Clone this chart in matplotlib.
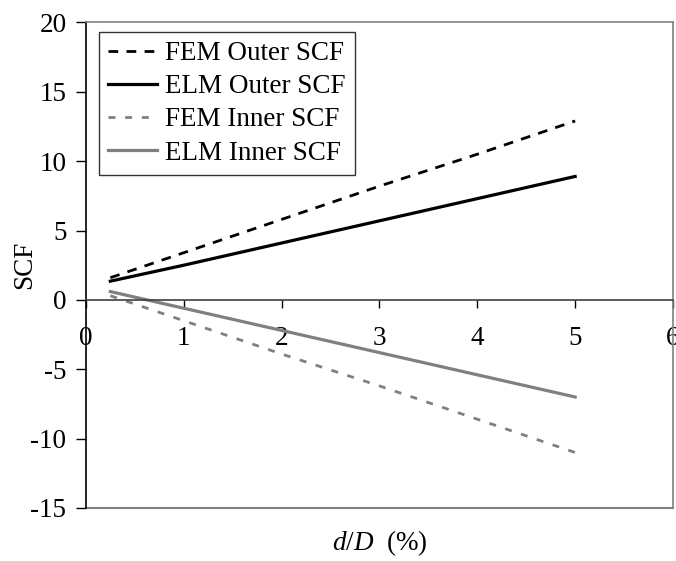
import matplotlib
matplotlib.use("Agg")
import matplotlib.pyplot as plt

plt.rcParams['font.family'] = ['Liberation Serif', 'DejaVu Serif']
plt.rcParams['mathtext.fontset'] = 'custom'
plt.rcParams['mathtext.it'] = 'Liberation Serif:italic'
plt.rcParams['mathtext.rm'] = 'Liberation Serif'
plt.rcParams['axes.unicode_minus'] = False

# d/D (%) values and SCF
dD = [0.25, 1, 2, 3, 4, 5]
fem_outer = [1.6, 3.4, 5.8, 8.2, 10.5, 12.9]
elm_outer = [1.35, 2.5, 4.1, 5.7, 7.3, 8.9]
fem_inner = [0.3, -1.5, -3.9, -6.2, -8.6, -11.0]
elm_inner = [0.6, -0.6, -2.2, -3.8, -5.4, -7.0]

xticks = [0, 1, 2, 3, 4, 5, 6]
yticks = [-15, -10, -5, 0, 5, 10, 15, 20]

gray = '#808080'
fs = 19.5

fig = plt.figure(figsize=(6.76, 5.61), dpi=100)
ax = fig.add_axes([0.127, 0.0945, 0.8686, 0.8655])

ax.plot(dD, fem_outer, color='black', lw=2, linestyle=(0, (3.5, 3)), label='FEM Outer SCF')
ax.plot(dD, elm_outer, color='black', lw=2.3, label='ELM Outer SCF')
ax.plot(dD, fem_inner, color=gray, lw=2, linestyle=(0, (2.5, 3.5)), label='FEM Inner SCF')
ax.plot(dD, elm_inner, color=gray, lw=2.3, label='ELM Inner SCF')

ax.set_xlim(0, 6)
ax.set_ylim(-15, 20)
ax.set_xticks(xticks)
ax.set_yticks(yticks)

# x axis drawn through y=0, frame in gray
ax.spines['bottom'].set_position(('data', 0))
ax.spines['bottom'].set_color('#404040')
ax.spines['left'].set_color('black')
ax.spines['top'].set_color(gray)
ax.spines['right'].set_color(gray)
for s in ax.spines.values():
    s.set_linewidth(1.2)
ax.plot([0, 1], [0, 0], transform=ax.transAxes, color=gray, lw=1.5, clip_on=False)

ax.tick_params(axis='x', direction='out', length=6, width=1, pad=13, labelsize=fs)
ax.tick_params(axis='y', direction='out', length=7, width=1, pad=7, labelsize=fs)

ax.set_ylabel('SCF', fontsize=fs)
ax.yaxis.set_label_coords(-0.083, 0.5)
fig.text(0.562, 0.006, r'$d/D$  (%)', fontsize=fs, ha='center', va='bottom')

leg = ax.legend(loc='upper left', bbox_to_anchor=(0.022, 0.981), borderaxespad=0,
                fontsize=fs, frameon=True, fancybox=False, edgecolor='black',
                handlelength=1.8, handletextpad=0.3, labelspacing=0.3,
                borderpad=0.35)
leg.get_frame().set_linewidth(1.0)

fig.savefig('out.png', dpi=100)
